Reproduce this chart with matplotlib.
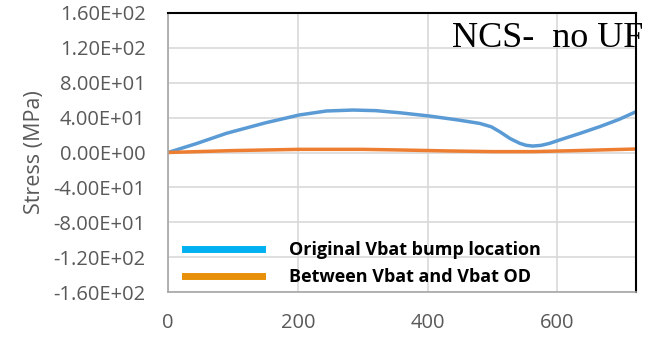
import matplotlib
matplotlib.use("Agg")
import matplotlib.pyplot as plt
from matplotlib.lines import Line2D

x_orig = [0, 45, 90, 150, 202, 244, 285, 320, 357, 403, 445, 480, 498, 511, 527, 542, 552, 562, 575, 588, 603, 635, 665, 695, 721]
y_orig = [0, 10.5, 22, 34, 43, 47.6, 48.7, 48, 45.6, 41.8, 37.5, 33.4, 29.5, 23.9, 16, 10.5, 8.2, 7.4, 8.2, 10.5, 14.3, 22, 29.6, 38, 46.8]
x_btw = [0, 100, 202, 300, 357, 430, 500, 562, 620, 680, 721]
y_btw = [0, 2.2, 3.6, 3.6, 2.9, 1.8, 1.0, 1.0, 2.0, 3.2, 4.0]

yticks = [160, 120, 80, 40, 0, -40, -80, -120, -160]
ytick_labels = ["1.60E+02", "1.20E+02", "8.00E+01", "4.00E+01", "0.00E+00",
                "-4.00E+01", "-8.00E+01", "-1.20E+02", "-1.60E+02"]
xticks = [0, 200, 400, 600]
series_names = ["Original Vbat bump location", "Between Vbat and Vbat OD"]
title_text = "NCS-  no UF"

fig = plt.figure(figsize=(6.48, 3.37), dpi=100)
ax = fig.add_axes([168/648, 1-292/337, (636-168)/648, (292-13)/337])

ax.plot(x_orig, y_orig, color="#5b9bd5", lw=2.5, solid_capstyle="round", solid_joinstyle="round")
ax.plot(x_btw, y_btw, color="#ed7d31", lw=2.5, solid_capstyle="round", solid_joinstyle="round")

ax.set_xlim(0, 721)
ax.set_ylim(-160, 160)
ax.set_yticks(yticks)
ax.set_yticklabels(ytick_labels)
ax.set_xticks(xticks)
ax.grid(True, color="#d9d9d9", lw=1.2)
ax.set_axisbelow(True)
ax.tick_params(length=0, labelsize=14.5, colors="#595959")
ax.tick_params(axis="y", pad=16)
ax.tick_params(axis="x", pad=15)
for lab in ax.get_xticklabels() + ax.get_yticklabels():
    lab.set_fontfamily("Open Sans")

ax.spines["top"].set_color("black")
ax.spines["top"].set_linewidth(1.5)
ax.spines["right"].set_color("black")
ax.spines["right"].set_linewidth(1.5)
ax.spines["left"].set_color("#a6a6a6")
ax.spines["bottom"].set_color("#a6a6a6")
ax.spines["left"].set_linewidth(1.2)
ax.spines["bottom"].set_linewidth(1.2)

ax.set_ylabel("Stress (MPa)", fontsize=15.5, color="#595959", family="Open Sans", labelpad=6)

ax.text(1.015, 0.878, title_text, transform=ax.transAxes, ha="right", va="baseline",
        fontsize=26, family="Liberation Serif", color="black", clip_on=False)

handles = [Line2D([0], [0], color="#00b0f0", lw=5),
           Line2D([0], [0], color="#e8900a", lw=5)]
leg = ax.legend(handles, series_names, loc="lower left", bbox_to_anchor=(0.036, 0.022),
                frameon=False, handlelength=4.3, handletextpad=1.45,
                borderpad=0, borderaxespad=0,
                prop={"family": "Open Sans", "weight": "bold", "size": 13},
                labelspacing=0.5)

fig.savefig("out.png", dpi=100)
